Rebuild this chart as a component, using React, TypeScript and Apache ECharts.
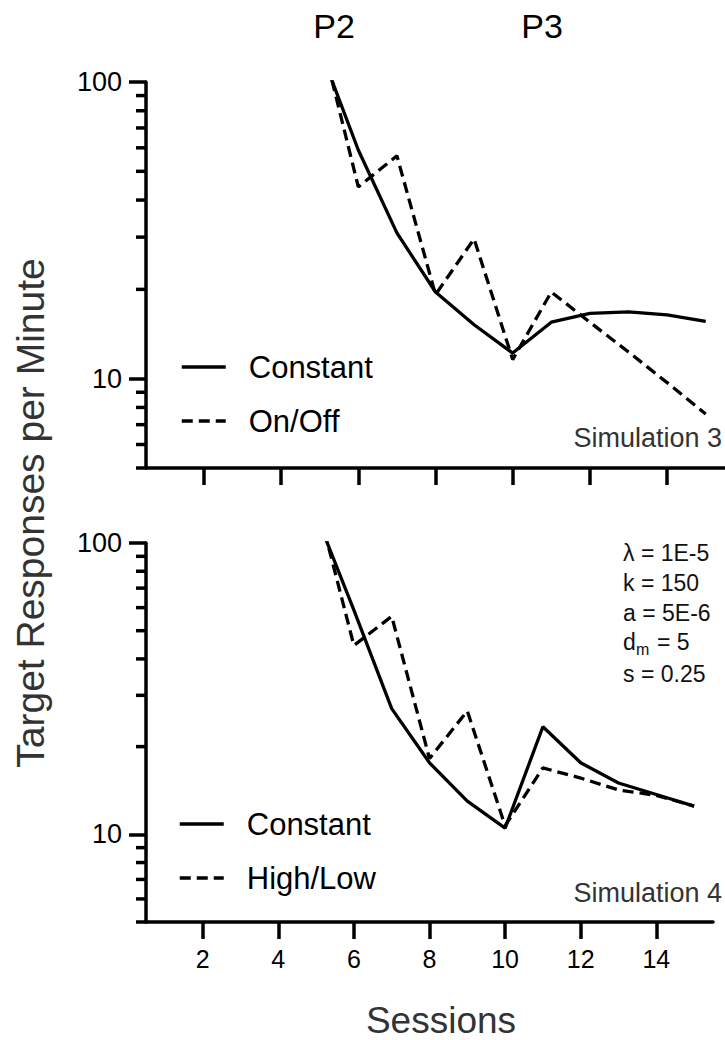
import React, { useEffect, useRef } from "react";
import * as echarts from "echarts";

// ---- data ----
const sessions = [5, 6, 7, 8, 9, 10, 11, 12, 13, 14, 15];
const sim3Constant = [130, 59, 31, 19.6, 15.2, 12.2, 15.5, 16.6, 16.8, 16.4, 15.6];
const sim3OnOff = [149, 44.3, 56.4, 19.2, 29.6, 11.6, 19.6, 15.5, 12.3, 9.7, 7.6];
const sim4Constant = [125, 58.8, 27, 17.6, 13.0, 10.5, 23.4, 17.6, 15.0, 13.7, 12.5];
const sim4HighLow = [142, 44.5, 56, 18.2, 26.5, 10.7, 16.9, 15.6, 14.2, 13.6, 12.5];

const xMin = 0.5;
const xMax = 15.5;
const xTicks = [2, 4, 6, 8, 10, 12, 14];
const yMin = 5;
const yMax = 100;
const yMajorTicks = [10, 100];
const yMinorTicks = [5, 6, 7, 8, 9, 20, 30, 40, 50, 60, 70, 80, 90];

const phaseLabels = ["P2", "P3"];
const paramLines = ["λ = 1E-5", "k = 150", "a = 5E-6", "", "s = 0.25"];

const FONT = "'Liberation Sans', Arial, Helvetica, sans-serif";

function pairs(ys: number[]) {
  return sessions.map((s, i) => [s, ys[i]]);
}

export default function App() {
  const ref = useRef<HTMLDivElement>(null);

  useEffect(() => {
    if (!ref.current) return;
    const chart = echarts.init(ref.current, null, { renderer: "svg" });

    const axisLineStyle = { color: "#000", width: 3.5 };

    const makeX = (gridIndex: number, showLabels: boolean) => ({
      type: "value",
      gridIndex,
      min: xMin,
      max: xMax,
      axisLine: { show: true, onZero: false, lineStyle: axisLineStyle },
      axisTick: {
        show: true,
        length: 17,
        lineStyle: axisLineStyle,
        customValues: xTicks,
      },
      axisLabel: {
        show: showLabels,
        customValues: xTicks,
        fontSize: 25,
        fontFamily: FONT,
        color: "#000",
        margin: 24,
      },
      splitLine: { show: false },
    });

    const makeY = (gridIndex: number) => ({
      type: "log",
      logBase: 10,
      gridIndex,
      min: yMin,
      max: yMax,
      axisLine: { show: true, lineStyle: axisLineStyle },
      axisTick: {
        show: true,
        length: 17,
        lineStyle: axisLineStyle,
        customValues: yMajorTicks,
      },
      axisLabel: {
        show: true,
        customValues: yMajorTicks,
        fontSize: 27,
        fontFamily: FONT,
        color: "#000",
        margin: 24,
      },
      splitLine: { show: false },
      minorTick: { show: false },
    });

    const minorTickSeries = (idx: number) => ({
      type: "custom",
      xAxisIndex: idx,
      yAxisIndex: idx,
      silent: true,
      clip: false,
      data: yMinorTicks.map((v) => [xMin, v]),
      renderItem: (params: any, api: any) => {
        const p = api.coord([api.value(0), api.value(1)]);
        return {
          type: "line",
          shape: { x1: p[0] - 10, y1: p[1], x2: p[0], y2: p[1] },
          style: { stroke: "#000", lineWidth: 3.5 },
        };
      },
    });

    const lineSeries = (name: string, idx: number, ys: number[], dashed: boolean) => ({
      type: "line",
      name,
      xAxisIndex: idx,
      yAxisIndex: idx,
      data: pairs(ys),
      symbol: "none",
      showSymbol: false,
      clip: true,
      lineStyle: {
        color: "#000",
        width: 3.3,
        type: dashed ? [11, 6] : "solid",
      },
      itemStyle: { color: "#000" },
    });

    const legendCommon = {
      orient: "vertical",
      selectedMode: false,
      padding: 0,
      itemWidth: 44,
      itemHeight: 14,
      itemGap: 22,
      itemStyle: { opacity: 0 },
      lineStyle: { width: 3.5 },
      textStyle: {
        fontSize: 31,
        fontFamily: FONT,
        color: "#000",
        lineHeight: 32,
        padding: [0, 0, 0, 18],
      },
    };

    const paramY = [553, 583, 613, 642, 674];

    const graphic: any[] = [
      {
        type: "text",
        x: 334,
        y: 26,
        style: { text: phaseLabels[0], fontSize: 34, fontFamily: FONT, fill: "#000", align: "center", verticalAlign: "middle" },
      },
      {
        type: "text",
        x: 542,
        y: 26,
        style: { text: phaseLabels[1], fontSize: 34, fontFamily: FONT, fill: "#000", align: "center", verticalAlign: "middle" },
      },
      {
        type: "text",
        x: 30,
        y: 513,
        rotation: Math.PI / 2,
        style: { text: "Target Responses per Minute", fontSize: 39, fontFamily: FONT, fill: "#333", align: "center", verticalAlign: "middle" },
      },
      {
        type: "text",
        x: 441,
        y: 1020,
        style: { text: "Sessions", fontSize: 37, fontFamily: FONT, fill: "#333", align: "center", verticalAlign: "middle" },
      },
      {
        type: "text",
        x: 722,
        y: 438,
        style: { text: "Simulation 3", fontSize: 27, fontFamily: FONT, fill: "#333", align: "right", verticalAlign: "middle" },
      },
      {
        type: "text",
        x: 722,
        y: 893,
        style: { text: "Simulation 4", fontSize: 27, fontFamily: FONT, fill: "#333", align: "right", verticalAlign: "middle" },
      },
    ];
    paramLines.forEach((t, i) => {
      if (t) {
        graphic.push({
          type: "text",
          x: 623,
          y: paramY[i],
          style: { text: t, fontSize: 23, fontFamily: FONT, fill: "#111", align: "left", verticalAlign: "middle" },
        });
      }
    });
    // d_m = 5 line with subscript
    graphic.push(
      {
        type: "text",
        x: 623,
        y: paramY[3],
        style: { text: "d", fontSize: 23, fontFamily: FONT, fill: "#111", align: "left", verticalAlign: "middle" },
      },
      {
        type: "text",
        x: 636,
        y: paramY[3] + 7,
        style: { text: "m", fontSize: 16, fontFamily: FONT, fill: "#111", align: "left", verticalAlign: "middle" },
      },
      {
        type: "text",
        x: 657,
        y: paramY[3],
        style: { text: "= 5", fontSize: 23, fontFamily: FONT, fill: "#111", align: "left", verticalAlign: "middle" },
      }
    );

    const option: any = {
      animation: false,
      backgroundColor: "#fff",
      textStyle: { fontFamily: FONT },
      grid: [
        { left: 146, top: 82, width: 581, height: 386, containLabel: false },
        { left: 146, top: 543, width: 567, height: 379, containLabel: false },
      ],
      xAxis: [makeX(0, false), makeX(1, true)],
      yAxis: [makeY(0), makeY(1)],
      legend: [
        { ...legendCommon, left: 180, top: 351, data: ["Constant", "On/Off"] },
        { ...legendCommon, left: 178, top: 808, data: ["Constant", "High/Low"] },
      ],
      graphic,
      series: [
        lineSeries("Constant", 0, sim3Constant, false),
        lineSeries("On/Off", 0, sim3OnOff, true),
        lineSeries("Constant", 1, sim4Constant, false),
        lineSeries("High/Low", 1, sim4HighLow, true),
        minorTickSeries(0),
        minorTickSeries(1),
      ],
    };

    chart.setOption(option);
    return () => chart.dispose();
  }, []);

  return (
    <div
      ref={ref}
      style={{ position: "fixed", left: 0, top: 0, width: 725, height: 1040, background: "#fff" }}
    />
  );
}
